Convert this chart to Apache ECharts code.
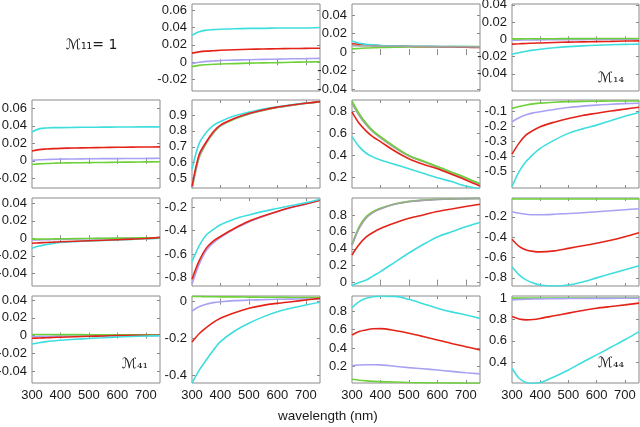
<!DOCTYPE html>
<html><head><meta charset="utf-8">
<script src="https://cdn.jsdelivr.net/npm/echarts@6/dist/echarts.min.js"></script>
<style>html,body{margin:0;padding:0;background:#fff}#c{width:640px;height:427px}</style>
</head><body><div id="c"></div>
<script>
const wavelength = [300,325,350,375,400,450,500,550,600,650,700,750];
const xTickLabels = [300,400,500,600,700];

// M12
const m12Cyan = [0.031,0.035,0.037,0.0375,0.038,0.0385,0.039,0.039,0.0395,0.0395,0.0395,0.040];
const m12Red = [0.0105,0.012,0.0128,0.0133,0.0138,0.0145,0.015,0.0153,0.0156,0.0158,0.016,0.0162];
const m12Lav = [-0.0015,0.0,0.001,0.0015,0.002,0.0025,0.003,0.0033,0.0036,0.004,0.0042,0.0045];
const m12Green = [-0.005,-0.0035,-0.0028,-0.0023,-0.002,-0.0015,-0.001,-0.0007,-0.0004,0.0,0.0003,0.0006];
// M13
const m13Cyan = [0.012,0.0095,0.0085,0.0078,0.0072,0.0068,0.0065,0.0063,0.0062,0.006,0.006,0.0058];
const m13Red = [0.009,0.0085,0.008,0.0076,0.0072,0.0067,0.0063,0.006,0.0058,0.0055,0.0052,0.005];
const m13Green = [0.0035,0.004,0.0045,0.0048,0.005,0.0053,0.0055,0.0057,0.0058,0.006,0.006,0.006];
const m13Gray = [0.007,0.0068,0.0066,0.0065,0.0064,0.0063,0.0062,0.0061,0.006,0.0059,0.0058,0.0057];
// M14
const m14Green = [0.0005,0.0005,0.0006,0.0006,0.0007,0.0007,0.0008,0.0008,0.0009,0.0009,0.001,0.001];
const m14Lav = [-0.001,-0.0009,-0.0008,-0.0007,-0.0006,-0.0005,-0.0004,-0.0003,-0.0002,-0.0001,0.0,0.0];
const m14Red = [-0.0056,-0.0052,-0.0048,-0.0045,-0.0042,-0.0037,-0.0033,-0.003,-0.0027,-0.0024,-0.002,-0.0018];
const m14Cyan = [-0.0173,-0.0155,-0.0138,-0.0125,-0.0115,-0.0098,-0.0085,-0.0076,-0.0069,-0.0063,-0.0059,-0.0056];
// M21
const m21Cyan = [0.033,0.0365,0.0375,0.038,0.038,0.0382,0.0384,0.0385,0.0386,0.0387,0.0388,0.0388];
const m21Red = [0.0112,0.0128,0.0135,0.014,0.0143,0.0147,0.015,0.0153,0.0155,0.0157,0.0158,0.016];
const m21Lav = [0.0005,0.0012,0.0016,0.0018,0.002,0.0022,0.0024,0.0025,0.0026,0.0027,0.0028,0.003];
const m21Green = [-0.0042,-0.0035,-0.003,-0.0027,-0.0025,-0.0022,-0.002,-0.0018,-0.0016,-0.0014,-0.0012,-0.001];
// M22
const m22Cyan = [0.56,0.72,0.79,0.835,0.86,0.895,0.918,0.938,0.952,0.965,0.975,0.982];
const m22Red = [0.45,0.65,0.73,0.795,0.837,0.88,0.91,0.932,0.95,0.963,0.975,0.985];
const m22Lav = [0.44,0.64,0.725,0.79,0.833,0.878,0.908,0.931,0.949,0.962,0.974,0.984];
const m22Green = [0.43,0.63,0.72,0.785,0.83,0.875,0.906,0.929,0.948,0.961,0.973,0.983];
// M23
const m23Green = [0.89,0.78,0.69,0.62,0.57,0.48,0.40,0.35,0.30,0.25,0.20,0.145];
const m23Gray = [0.87,0.76,0.675,0.61,0.56,0.47,0.395,0.345,0.295,0.245,0.195,0.14];
const m23Lav = [0.88,0.77,0.68,0.615,0.565,0.475,0.398,0.348,0.298,0.248,0.198,0.143];
const m23Red = [0.79,0.69,0.62,0.565,0.525,0.44,0.37,0.32,0.28,0.23,0.18,0.125];
const m23Cyan = [0.57,0.48,0.42,0.385,0.36,0.32,0.28,0.24,0.20,0.165,0.125,0.10];
// M24
const m24Green = [-0.078,-0.065,-0.055,-0.048,-0.043,-0.037,-0.033,-0.031,-0.03,-0.029,-0.029,-0.029];
const m24Lav = [-0.167,-0.14,-0.12,-0.108,-0.1,-0.085,-0.072,-0.063,-0.056,-0.05,-0.046,-0.044];
const m24Red = [-0.384,-0.31,-0.255,-0.225,-0.2,-0.17,-0.145,-0.125,-0.11,-0.095,-0.083,-0.07];
const m24Cyan = [-0.60,-0.50,-0.433,-0.385,-0.345,-0.29,-0.245,-0.215,-0.19,-0.16,-0.13,-0.105];
// M31
const m31Green = [-0.001,-0.001,-0.0008,-0.0007,-0.0006,-0.0004,-0.0002,0,0.0002,0.0004,0.0006,0.0008];
const m31Lav = [-0.002,-0.0018,-0.0016,-0.0014,-0.0012,-0.0009,-0.0006,-0.0003,0.0,0.0002,0.0004,0.0006];
const m31Red = [-0.0057,-0.0052,-0.0048,-0.0044,-0.004,-0.0034,-0.0028,-0.0022,-0.0016,-0.001,-0.0003,0.001];
const m31Cyan = [-0.0114,-0.0088,-0.0072,-0.0058,-0.0048,-0.0038,-0.003,-0.0024,-0.0018,-0.0012,-0.0006,0.0];
// M32
const m32Cyan = [-0.666,-0.53,-0.437,-0.39,-0.35,-0.30,-0.265,-0.235,-0.21,-0.185,-0.16,-0.13];
const m32Red = [-0.817,-0.66,-0.55,-0.49,-0.45,-0.38,-0.32,-0.275,-0.235,-0.2,-0.172,-0.14];
const m32Lav = [-0.86,-0.69,-0.57,-0.505,-0.46,-0.385,-0.325,-0.278,-0.238,-0.202,-0.174,-0.14];
// M33
const m33Green = [0.45,0.66,0.78,0.84,0.88,0.93,0.96,0.975,0.985,0.99,0.993,0.995];
const m33Gray = [0.44,0.64,0.765,0.83,0.87,0.925,0.955,0.972,0.983,0.989,0.992,0.994];
const m33Lav = [0.445,0.65,0.772,0.835,0.875,0.928,0.958,0.974,0.984,0.99,0.993,0.995];
const m33Red = [0.327,0.45,0.54,0.595,0.64,0.705,0.76,0.80,0.84,0.87,0.90,0.927];
const m33Cyan = [-0.03,0.0,0.03,0.08,0.13,0.24,0.35,0.45,0.54,0.60,0.66,0.71];
// M34
const m34Green = [-0.025,-0.025,-0.025,-0.025,-0.025,-0.025,-0.025,-0.025,-0.025,-0.025,-0.025,-0.025];
const m34Lav = [-0.15,-0.165,-0.175,-0.18,-0.18,-0.175,-0.167,-0.16,-0.15,-0.14,-0.13,-0.12];
const m34Red = [-0.42,-0.49,-0.525,-0.54,-0.545,-0.535,-0.51,-0.485,-0.46,-0.43,-0.395,-0.356];
const m34Cyan = [-0.69,-0.77,-0.82,-0.85,-0.87,-0.88,-0.87,-0.84,-0.80,-0.76,-0.72,-0.68];
// M41
const m41Green = [0.0012,0.0012,0.0012,0.0011,0.0011,0.0011,0.001,0.001,0.001,0.001,0.001,0.001];
const m41Lav = [-0.001,-0.0009,-0.0008,-0.0007,-0.0006,-0.0005,-0.0004,-0.0003,-0.0002,-0.0001,0.0,0.0];
const m41Red = [-0.003,-0.0027,-0.0024,-0.0021,-0.0018,-0.0013,-0.0008,-0.0004,0.0,0.0002,0.0004,0.0005];
const m41Cyan = [-0.0095,-0.008,-0.0068,-0.006,-0.0053,-0.0042,-0.0032,-0.0024,-0.0016,-0.001,-0.0005,0.0];
// M42
const m42Green = [0.028,0.028,0.027,0.027,0.026,0.026,0.025,0.024,0.024,0.023,0.022,0.022];
const m42Lav = [-0.051,-0.028,-0.014,-0.005,0.0,0.006,0.009,0.011,0.013,0.014,0.015,0.015];
const m42Red = [-0.22,-0.175,-0.142,-0.113,-0.09,-0.06,-0.036,-0.02,-0.009,0.0,0.009,0.018];
const m42Cyan = [-0.444,-0.375,-0.318,-0.265,-0.218,-0.16,-0.118,-0.083,-0.055,-0.035,-0.018,-0.003];
// M43
const m43Cyan = [0.835,0.9,0.936,0.953,0.958,0.957,0.925,0.878,0.83,0.79,0.757,0.72];
const m43Red = [0.542,0.58,0.596,0.608,0.61,0.59,0.56,0.525,0.488,0.45,0.416,0.38];
const m43Lav = [0.212,0.218,0.222,0.222,0.22,0.205,0.19,0.178,0.165,0.15,0.135,0.123];
const m43Green = [0.065,0.055,0.048,0.043,0.04,0.035,0.03,0.027,0.025,0.024,0.023,0.022];
// M44
const m44Green = [1.0,1.0,1.0,1.0,1.0,1.0,1.0,1.0,1.0,1.0,1.0,1.0];
const m44Lav = [0.984,0.987,0.99,0.992,0.993,0.995,0.996,0.997,0.998,0.998,0.999,0.999];
const m44Red = [0.828,0.805,0.797,0.8,0.81,0.835,0.86,0.884,0.906,0.922,0.937,0.953];
const m44Cyan = [0.344,0.25,0.21,0.2,0.21,0.265,0.328,0.4,0.469,0.54,0.61,0.687];

const ticksSmall4 = [-0.04,-0.02,0,0.02,0.04];
const ticksSmall6 = [-0.02,0,0.02,0.04,0.06];

const C = {cyan:'#3fdede', red:'#e42318', lav:'#a9a2f2', green:'#6fd13a', gray:'#a3a3a3'};

const panels = [
  {r:0,c:1,min:-0.033,max:0.067,ticks:ticksSmall6,s:[['green',m12Green],['lav',m12Lav],['red',m12Red],['cyan',m12Cyan]]},
  {r:0,c:2,min:-0.042,max:0.052,ticks:ticksSmall4,s:[['green',m13Green],['red',m13Red],['cyan',m13Cyan],['gray',m13Gray]]},
  {r:0,c:3,min:-0.06,max:0.041,ticks:ticksSmall4,s:[['lav',m14Lav],['green',m14Green],['red',m14Red],['cyan',m14Cyan]]},
  {r:1,c:0,min:-0.031,max:0.0695,ticks:ticksSmall6,s:[['green',m21Green],['lav',m21Lav],['red',m21Red],['cyan',m21Cyan]]},
  {r:1,c:1,min:0.44,max:0.995,ticks:[0.5,0.6,0.7,0.8,0.9],s:[['green',m22Green],['lav',m22Lav],['cyan',m22Cyan],['red',m22Red]]},
  {r:1,c:2,min:0.107,max:0.9,ticks:[0.2,0.4,0.6,0.8],s:[['lav',m23Lav],['gray',m23Gray],['green',m23Green],['red',m23Red],['cyan',m23Cyan]]},
  {r:1,c:3,min:-0.61,max:-0.022,ticks:[-0.5,-0.4,-0.3,-0.2,-0.1],s:[['green',m24Green],['lav',m24Lav],['red',m24Red],['cyan',m24Cyan]]},
  {r:2,c:0,min:-0.0545,max:0.046,ticks:ticksSmall4,s:[['lav',m31Lav],['green',m31Green],['cyan',m31Cyan],['red',m31Red]]},
  {r:2,c:1,min:-0.875,max:-0.12,ticks:[-0.8,-0.6,-0.4,-0.2],s:[['lav',m32Lav],['red',m32Red],['cyan',m32Cyan]]},
  {r:2,c:2,min:-0.04,max:1.0,ticks:[0,0.2,0.4,0.6,0.8],s:[['lav',m33Lav],['green',m33Green],['gray',m33Gray],['red',m33Red],['cyan',m33Cyan]]},
  {r:2,c:3,min:-0.88,max:-0.015,ticks:[-0.8,-0.6,-0.4,-0.2],s:[['green',m34Green],['lav',m34Lav],['red',m34Red],['cyan',m34Cyan]]},
  {r:3,c:0,min:-0.0533,max:0.0445,ticks:ticksSmall4,s:[['lav',m41Lav],['green',m41Green],['red',m41Red],['cyan',m41Cyan]]},
  {r:3,c:1,min:-0.444,max:0.031,ticks:[-0.4,-0.2,0],s:[['green',m42Green],['lav',m42Lav],['red',m42Red],['cyan',m42Cyan]]},
  {r:3,c:2,min:0.025,max:0.961,ticks:[0.2,0.4,0.6,0.8],s:[['green',m43Green],['lav',m43Lav],['red',m43Red],['cyan',m43Cyan]]},
  {r:3,c:3,min:0.206,max:1.02,ticks:[0.4,0.6,0.8,1],s:[['green',m44Green],['lav',m44Lav],['red',m44Red],['cyan',m44Cyan]]}
];

const lefts = [32,192,352,512], widths = [128,128,128,127];
const tops = [4,100,198,296], heights = [87,88,88,87];
const axisGray = '#8a8a8a';
const fmt = v => String(+(+v).toFixed(3));

const grid=[], xAxis=[], yAxis=[], series=[];
panels.forEach((p,i)=>{
  grid.push({left:lefts[p.c],top:tops[p.r],width:widths[p.c],height:heights[p.r],show:true,borderColor:axisGray,borderWidth:1,backgroundColor:'#fff',containLabel:false,outerBoundsMode:'none'});
  const tick = {show:true,inside:true,length:3,lineStyle:{color:axisGray,width:1},customValues:[400,500,600,700]};
  xAxis.push({type:'value',gridIndex:i,min:300,max:750,position:'bottom',axisLine:{show:false},splitLine:{show:false},axisTick:tick,
    axisLabel:{show:p.r===3,customValues:xTickLabels,margin:6,fontSize:13,color:'#1a1a1a',fontFamily:'Liberation Sans, Arial, sans-serif'}});
  xAxis.push({type:'value',gridIndex:i,min:300,max:750,position:'top',axisLine:{show:false},splitLine:{show:false},axisTick:tick,axisLabel:{show:false}});
  const ytick = {show:true,inside:true,length:3,lineStyle:{color:axisGray,width:1},customValues:p.ticks};
  yAxis.push({type:'value',gridIndex:i,min:p.min,max:p.max,position:'left',axisLine:{show:false},splitLine:{show:false},axisTick:ytick,
    axisLabel:{customValues:p.ticks,formatter:fmt,margin:5,fontSize:13,color:'#1a1a1a',fontFamily:'Liberation Sans, Arial, sans-serif',showMinLabel:true,showMaxLabel:true}});
  yAxis.push({type:'value',gridIndex:i,min:p.min,max:p.max,position:'right',axisLine:{show:false},splitLine:{show:false},axisTick:ytick,axisLabel:{show:false}});
  p.s.forEach(([col,arr])=>{
    series.push({type:'line',xAxisIndex:2*i,yAxisIndex:2*i,showSymbol:false,smooth:0.3,clip:true,silent:true,
      lineStyle:{color:C[col],width:1.6},data:wavelength.map((w,k)=>[w,arr[k]])});
  });
});

const chart = echarts.init(document.getElementById('c'),null,{renderer:'canvas'});
chart.setOption({
  animation:false,
  grid, xAxis, yAxis, series,
  graphic:[
    {type:'text',left:330 - 52,top:409,style:{text:'wavelength (nm)',fontSize:13.5,fill:'#1a1a1a',fontFamily:'Liberation Sans, Arial, sans-serif'}},
    {type:'text',left:66,top:38,style:{text:'ℳ₁₁= 1',fontSize:14,fill:'#1a1a1a',fontFamily:'DejaVu Sans, sans-serif'}},
    {type:'text',left:598,top:71,style:{text:'ℳ₁₄',fontSize:14,fill:'#1a1a1a',fontFamily:'DejaVu Serif, DejaVu Sans, serif'}},
    {type:'text',left:122,top:357,style:{text:'ℳ₄₁',fontSize:14,fill:'#1a1a1a',fontFamily:'DejaVu Serif, DejaVu Sans, serif'}},
    {type:'text',left:598,top:356,style:{text:'ℳ₄₄',fontSize:14,fill:'#1a1a1a',fontFamily:'DejaVu Serif, DejaVu Sans, serif'}}
  ]
});
</script></body></html>
